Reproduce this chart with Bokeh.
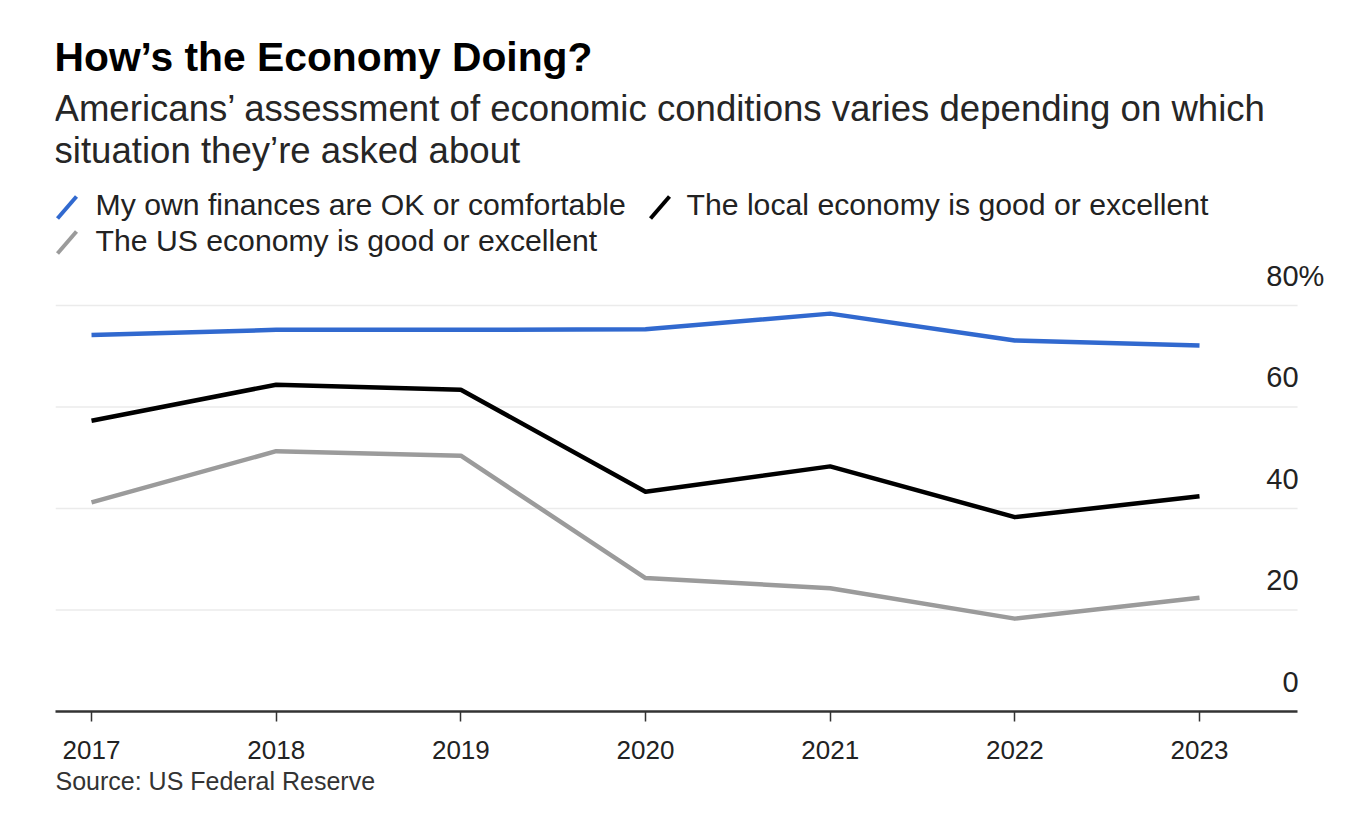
from bokeh.plotting import figure
from bokeh.models import (Range1d, Label, LabelSet, ColumnDataSource,
                          FixedTicker, Arrow, Title)
from bokeh.core.properties import value
from bokeh.embed import file_html
from bokeh.resources import INLINE

# ---- data ----
years = [2017, 2018, 2019, 2020, 2021, 2022, 2023]
own_finances = [74.2, 75.2, 75.2, 75.3, 78.4, 73.1, 72.1]
local_economy = [57.3, 64.4, 63.4, 43.3, 48.3, 38.3, 42.4]
us_economy = [41.2, 51.3, 50.4, 26.3, 24.3, 18.3, 22.4]
y_ticks = [0, 20, 40, 60, 80]
y_tick_labels = ["0", "20", "40", "60", "80"]
series_names = ["My own finances are OK or comfortable",
                "The local economy is good or excellent",
                "The US economy is good or excellent"]
title_text = "How\u2019s the Economy Doing?"
subtitle_lines = ["Americans\u2019 assessment of economic conditions varies depending on which",
                  "situation they\u2019re asked about"]
source_text = "Source: US Federal Reserve"

BLUE = "#3169cf"
BLACK = "#000000"
GRAY = "#9b9b9b"
FONT = "Liberation Sans"

PX_PER_YEAR = 184.667
X0 = 2016.805            # left edge of plot area
X_AXIS_END = 2023.531    # where axis line / gridlines stop
FRAME_LEFT = 55
W, H = 1350, 830
X1 = X0 + (W - FRAME_LEFT) / PX_PER_YEAR
FRAME_BOTTOM = 711
PX_PER_UNIT = 5.075
Y1 = FRAME_BOTTOM / PX_PER_UNIT

p = figure(width=W, height=H, output_backend="svg", toolbar_location=None,
           x_range=Range1d(X0, X1), y_range=Range1d(0, Y1),
           y_axis_location=None, min_border_left=FRAME_LEFT, min_border_right=0,
           min_border_top=0, min_border_bottom=H - FRAME_BOTTOM)
p.outline_line_color = None
p.background_fill_color = "white"
p.border_fill_color = "white"
p.xgrid.visible = False
p.ygrid.visible = False

# horizontal gridlines (stop at the axis end)
p.segment(x0=[X0] * 4, x1=[X_AXIS_END] * 4, y0=y_ticks[1:], y1=y_ticks[1:],
          line_color="#ebebeb", line_width=1.5)

# x axis
xa = p.xaxis[0]
xa.bounds = (X0, X_AXIS_END)
xa.ticker = FixedTicker(ticks=years)
xa.axis_line_color = "#333333"
xa.axis_line_width = 2.5
xa.major_tick_line_color = "#333333"
xa.major_tick_line_width = 1.5
xa.major_tick_out = 10
xa.major_tick_in = 0
xa.minor_tick_line_color = None
xa.major_label_text_font = FONT
xa.major_label_text_font_size = "26px"
xa.major_label_text_color = "#222222"
xa.major_label_standoff = 19

# lines
for vals, col in [(us_economy, GRAY), (local_economy, BLACK), (own_finances, BLUE)]:
    p.line(years, vals, line_color=col, line_width=4.5, line_join="round")

# y labels above gridlines, at right edge of the plot area
ysrc = ColumnDataSource(dict(x=[X_AXIS_END] * len(y_ticks), y=y_ticks, t=y_tick_labels))
p.add_layout(LabelSet(x="x", y="y", text="t", source=ysrc, x_offset=1, y_offset=20,
                      text_align="right", text_baseline="alphabetic",
                      text_font=value(FONT), text_font_size=value("29px"),
                      text_color="#222222"))
psrc = ColumnDataSource(dict(x=[X_AXIS_END], y=[y_ticks[-1]], t=["%"]))
p.add_layout(LabelSet(x="x", y="y", text="t", source=psrc, x_offset=1, y_offset=20,
                      text_align="left", text_baseline="alphabetic",
                      text_font=value(FONT), text_font_size=value("29px"),
                      text_color="#222222"))

# header texts (screen units relative to frame bottom-left)
def lab(text, x, y, size, bold=False, color="#222222"):
    p.add_layout(Label(x=x, y=y, x_units="screen", y_units="screen", text=text,
                       text_font=FONT, text_font_size=size,
                       text_font_style="bold" if bold else "normal",
                       text_color=color, text_baseline="alphabetic", text_align="left"))

lab(title_text, -1, FRAME_BOTTOM - 56, "40.8px", bold=True, color="#000000")
lab(subtitle_lines[0], -1, FRAME_BOTTOM - 108, "36.6px", color="#262626")
lab(subtitle_lines[1], -1, FRAME_BOTTOM - 150, "36.6px", color="#262626")

legend_pos = [(40, 204, 2, 218, BLUE), (631, 204, 595, 218, BLACK), (40, 240, 2, 253, GRAY)]
for name, (tx, ty, sx, sy, col) in zip(series_names, legend_pos):
    p.add_layout(Arrow(x_start=sx, y_start=FRAME_BOTTOM - sy, x_end=sx + 19,
                       y_end=FRAME_BOTTOM - sy + 22,
                       start_units="screen", end_units="screen", end=None,
                       line_color=col, line_width=4))
    lab(name, tx, FRAME_BOTTOM - ty, "30.2px", color="#222222")

# source below the axis
p.add_layout(Title(text=source_text, align="left", text_font=FONT,
                   text_font_size="25px", text_font_style="normal",
                   text_color="#333333", standoff=6), "below")

open("out.html", "w").write(file_html(p, INLINE))
